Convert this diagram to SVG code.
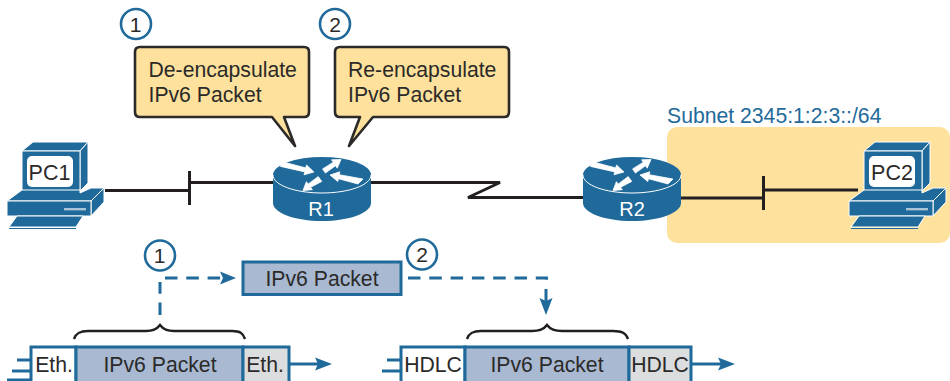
<svg xmlns="http://www.w3.org/2000/svg" xmlns:xlink="http://www.w3.org/1999/xlink" width="950" height="381" viewBox="0 0 950 381">
<style>
text{font-family:"Liberation Sans",Arial,sans-serif;fill:#2b2a29}
.l{font-size:21.2px}
.line{fill:none;stroke:#231f20;stroke-width:3}
.dash{fill:none;stroke:#1f6a9a;stroke-width:3;stroke-dasharray:12.5 8.8}
.flow{fill:none;stroke:#1f6a9a;stroke-width:3}
.brace{fill:none;stroke:#231f20;stroke-width:2.5}
.call{fill:#fde19c;stroke:#2b2a29;stroke-width:2.6;stroke-linejoin:round}
.num{fill:#fff;stroke:#1f6a9a;stroke-width:2.6}
.blue{fill:#1f6a9a}
.eg{stroke:#fff;stroke-width:1;stroke-linejoin:round}
.pkt{fill:#a8b9d1;stroke:#1f6a9a;stroke-width:3}
.wh{fill:#fff;stroke:#1f6a9a;stroke-width:3}
.gr{fill:#dcddde;stroke:#1f6a9a;stroke-width:3}
.c{text-anchor:middle}
.head{fill:#1f6a9a}
.ra{fill:#fff;stroke:#fff;stroke-width:.8;stroke-linejoin:round}
</style>
<defs>
<g id="pc">
<path class="blue eg" d="M22 151L33 142H88L80 151Z"/>
<path class="blue eg" d="M80 151L88 142V183L80 191Z"/>
<rect class="blue eg" x="22" y="151" width="58" height="42"/>
<rect x="27" y="156" width="46" height="31" rx="5" fill="#fff"/>
<path class="blue eg" d="M7 201L22 190H80V193L91 188H104L91 201Z"/>
<path class="blue eg" d="M91 201L104 188V202L91 216Z"/>
<rect class="blue eg" x="7" y="201" width="84" height="15"/>
<rect x="64" y="208" width="22" height="2.4" fill="#a8c4d8"/>
<path class="blue eg" d="M9 227L17 216H83L76 227Z"/>
<path class="blue" d="M9 228H76V229H9Z" stroke="none"/>
</g>
<g id="rt">
<path class="blue" d="M-49 0V28C-49 38 -27 46 0 46S49 38 49 28V0Z"/>
<ellipse class="blue" rx="49" ry="18"/>
<path d="M-49 0C-49 10 -27 18 0 18S49 10 49 0" fill="none" stroke="#fff" stroke-width="1"/>
<path class="ra" d="M-40.400 -13.400L-16.200 -7.100L-15.500 -10L-8 -3L-18 -.2L-17.200 -3.100L-41.600 -8.600Z"/>
<path class="ra" d="M3.400 -1.900L13.500 -9.300L15.200 -6.800L19 -15.500L9.600 -15.200L11.300 -12.700L.6 -6.100Z"/>
<path class="ra" d="M8 0L17.800 -3.200L17.200 -.3L41 4L36 9L16.400 3.700L15.800 6.600Z"/>
<path class="ra" d="M-19 15.500L-15.600 6.700L-13.800 9.100L-3.800 1.600L-.2 6.400L-11.400 12.300L-9.600 14.700Z"/>
</g>
</defs>

<rect id="subnet" x="667" y="127" width="283" height="116" rx="10" fill="#fde19c"/>
<text x="667" y="123" font-size="21.200" style="fill:#1f6a9a">Subnet 2345:1:2:3::/64</text>

<g id="connectors">
<path class="line" d="M105 190.500H189.500M189.500 171V205M189.500 182.500H273"/>
<path class="line" d="M371 182.500H500L468 197.500H584"/>
<path class="line" d="M681 198H763.500M763.500 176V210M763.500 190H858"/>
<path class="dash" d="M160 315V282"/>
<path class="dash" d="M165 278H222"/>
<path class="head" d="M220 271.500L236 278L220 284.500L223 278Z"/>
<path class="dash" d="M408 278H546.500V282"/>
<path class="flow" d="M546 289V305"/>
<path class="head" d="M539.500 298L546 315L552.500 298L546 301Z"/>
<path class="brace" d="M74 339C76 333 80 331 88 331H146C153 331 157 329 160 325C163 329 167 331 174 331H232C240 331 243 333 245 339"/>
<path class="brace" d="M467 339C469 333 473 331 481 331H532C539 331 544 329 547 325C550 329 555 331 562 331H613C622 331 626 333 628 339"/>
<path class="flow" d="M17 360H30M12 371H30M7 380H30"/>
<path class="flow" d="M290 364H320"/>
<path class="head" d="M315 357.500L332 364L315 370.500L318 364Z"/>
<path class="flow" d="M387 360H400M382 371H400"/>
<path class="flow" d="M692 364H722"/>
<path class="head" d="M718 357.500L735 364L718 370.500L721 364Z"/>
</g>

<g id="pc1"><use xlink:href="#pc" href="#pc"/><text class="c" x="49.500" y="180" font-size="21.500">PC1</text></g>
<g id="pc2"><use xlink:href="#pc" href="#pc" x="842"/><text class="c" x="892" y="180" font-size="21.500">PC2</text></g>
<g id="r1"><use xlink:href="#rt" href="#rt" x="322" y="175"/><text class="c" x="321" y="216" font-size="20" style="fill:#fff">R1</text></g>
<g id="r2"><use xlink:href="#rt" href="#rt" x="632" y="175"/><text class="c" x="632" y="216" font-size="20" style="fill:#fff">R2</text></g>

<g id="step1"><circle class="num" cx="136" cy="24" r="15"/><text class="c" x="135.500" y="31.500" font-size="21">1</text></g>
<g id="step2"><circle class="num" cx="335" cy="24" r="15"/><text class="c" x="335" y="31.500" font-size="21">2</text></g>
<g id="callout1"><path class="call" d="M140 47H304Q309 47 309 52V112Q309 117 304 117H284L295 146L272 117H140Q135 117 135 112V52Q135 47 140 47Z"/><text class="l" x="148.500" y="77">De-encapsulate</text><text class="l" x="148.500" y="102">IPv6 Packet</text></g>
<g id="callout2"><path class="call" d="M340 47H504Q509 47 509 52V112Q509 117 504 117H373L349 146L360 117H340Q335 117 335 112V52Q335 47 340 47Z"/><text class="l" x="348" y="77">Re-encapsulate</text><text class="l" x="348" y="102">IPv6 Packet</text></g>

<g id="step3"><circle class="num" cx="160" cy="255.500" r="15"/><text class="c" x="159.500" y="262.500" font-size="21">1</text></g>
<g id="step4"><circle class="num" cx="422" cy="254.500" r="15"/><text class="c" x="422" y="262" font-size="21">2</text></g>
<g id="packet"><rect class="pkt" x="243" y="262" width="158" height="32.500"/><text class="c l" x="322" y="286">IPv6 Packet</text></g>

<g id="frame1">
<rect class="wh" x="31" y="347" width="45" height="40"/><text class="c l" x="54" y="372">Eth.</text>
<rect class="pkt" x="76" y="347" width="167" height="40"/><text class="c l" x="160" y="372">IPv6 Packet</text>
<rect class="gr" x="243" y="347" width="46" height="40"/><text class="c l" x="265" y="372">Eth.</text>
</g>
<g id="frame2">
<rect class="wh" x="401" y="347" width="64" height="40"/><text class="c l" x="433" y="372">HDLC</text>
<rect class="pkt" x="465" y="347" width="164" height="40"/><text class="c l" x="547" y="372">IPv6 Packet</text>
<rect class="gr" x="629" y="347" width="62" height="40"/><text class="c l" x="660" y="372">HDLC</text>
</g>
</svg>
